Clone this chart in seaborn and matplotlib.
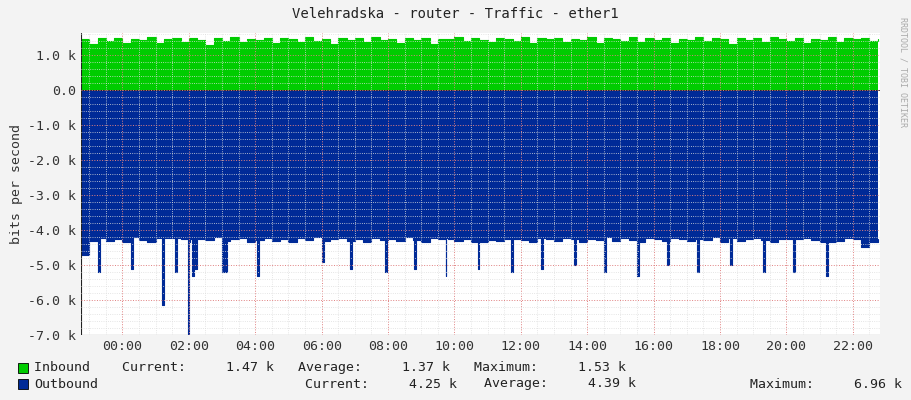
import numpy as np
import pandas as pd
import seaborn as sns
import matplotlib.pyplot as plt
from matplotlib.ticker import MultipleLocator, FuncFormatter

# hours relative to midnight, 15 minute samples
start_hour = -1.25
step_hour = 0.25

inbound_k = [
    1.45, 1.32, 1.48, 1.40, 1.50, 1.35, 1.47, 1.42, 1.51, 1.33, 1.46, 1.49, 1.38, 1.50, 1.44, 1.30,
    1.48, 1.41, 1.52, 1.36, 1.47, 1.43, 1.50, 1.34, 1.49, 1.45, 1.38, 1.51, 1.40, 1.47, 1.32, 1.50,
    1.44, 1.48, 1.37, 1.52, 1.42, 1.46, 1.35, 1.50, 1.43, 1.49, 1.31, 1.47, 1.45, 1.51, 1.39, 1.48,
    1.44, 1.36, 1.50, 1.46, 1.41, 1.52, 1.34, 1.48, 1.45, 1.50, 1.38, 1.47, 1.43, 1.51, 1.33, 1.49,
    1.46, 1.40, 1.52, 1.37, 1.48, 1.44, 1.50, 1.35, 1.47, 1.42, 1.51, 1.39, 1.49, 1.45, 1.32, 1.50,
    1.43, 1.48, 1.36, 1.52, 1.46, 1.41, 1.49, 1.34, 1.47, 1.44, 1.51, 1.38, 1.48, 1.45, 1.50, 1.40,
    1.46,
]

outbound_k = [
    -4.70, -4.32, -4.22, -4.30, -4.26, -4.35, -4.21, -4.28, -4.33, -4.24, -4.30, -4.22, -4.27, -4.34, -4.25, -4.29,
    -4.21, -4.31, -4.26, -4.23, -4.33, -4.28, -4.22, -4.30, -4.25, -4.35, -4.24, -4.29, -4.21, -4.32, -4.27, -4.23,
    -4.30, -4.26, -4.34, -4.22, -4.28, -4.25, -4.31, -4.21, -4.29, -4.33, -4.24, -4.27, -4.22, -4.30, -4.26, -4.35,
    -4.23, -4.28, -4.31, -4.25, -4.21, -4.29, -4.34, -4.24, -4.27, -4.30, -4.22, -4.26, -4.33, -4.25, -4.28, -4.21,
    -4.31, -4.24, -4.29, -4.35, -4.23, -4.27, -4.30, -4.22, -4.26, -4.32, -4.25, -4.28, -4.21, -4.34, -4.24, -4.30,
    -4.27, -4.22, -4.29, -4.33, -4.25, -4.26, -4.31, -4.23, -4.28, -4.35, -4.24, -4.30, -4.22, -4.27, -4.48, -4.33,
    -4.25,
]

spike_hours = [-0.74, 0.26, 1.20, 1.57, 1.97, 2.10, 2.17, 3.00, 3.10, 4.06, 6.00, 6.86, 7.90, 8.77, 9.74,
               10.70, 11.70, 12.60, 13.60, 14.50, 15.50, 16.40, 17.30, 18.30, 19.30, 20.20, 21.20]
spike_k = [-5.2, -5.1, -6.15, -5.2, -6.96, -5.3, -5.1, -5.2, -5.2, -5.3, -4.9, -5.1, -5.2, -5.1, -5.3,
           -5.1, -5.2, -5.1, -5.0, -5.2, -5.3, -5.0, -5.2, -5.0, -5.2, -5.2, -5.3]

green = "#00CC00"
blue = "#002A97"

hours = start_hour + step_hour * np.arange(len(inbound_k))
df_in = pd.DataFrame({"hour": hours, "value": inbound_k})

# merge narrow spikes into the outbound step series
base = pd.Series(outbound_k, index=hours)
pts = {h: v for h, v in base.items()}
for h, v in zip(spike_hours, spike_k):
    back = base[base.index <= h].iloc[-1]
    pts[h] = v
    pts[h + 0.06] = back
df_out = pd.DataFrame(sorted(pts.items()), columns=["hour", "value"])

sns.set_style("white")
plt.rcParams["font.family"] = ["DejaVu Sans Mono"]

fig = plt.figure(figsize=(9.11, 4.0), dpi=100, facecolor="#F3F3F3")
ax = fig.add_axes([81 / 911, 65 / 400, 799 / 911, 302 / 400])
ax.set_facecolor("white")

ax.fill_between(df_in["hour"], 0, df_in["value"], step="post", color=green, lw=0)
ax.fill_between(df_out["hour"], 0, df_out["value"], step="post", color=blue, lw=0)
sns.lineplot(data=df_in, x="hour", y="value", ax=ax, color=green, lw=0.8, drawstyle="steps-post")
sns.lineplot(data=df_out, x="hour", y="value", ax=ax, color=blue, lw=0.8, drawstyle="steps-post")

ax.set_xlim(-1.25, 21.57 + 1.25 - 0.0)
ax.set_ylim(-7.0, 1.63)
ax.xaxis.set_major_locator(MultipleLocator(2))
ax.xaxis.set_minor_locator(MultipleLocator(0.5))
ax.yaxis.set_major_locator(MultipleLocator(1))
ax.yaxis.set_minor_locator(MultipleLocator(0.2))
ax.xaxis.set_major_formatter(FuncFormatter(lambda v, p: f"{int(round(v)) % 24:02d}:00"))
ax.yaxis.set_major_formatter(FuncFormatter(lambda v, p: "0.0" if abs(v) < 1e-9 else f"{v:.1f} k"))
ax.grid(which="minor", color="#DDDDDD", ls=":", lw=0.6)
ax.grid(which="major", color="#E08080", ls=":", lw=0.7)
ax.set_axisbelow(False)
ax.tick_params(labelsize=9.5, colors="#333333", length=0)
ax.set_xlabel("")
ax.set_ylabel("bits per second", fontsize=9.5, color="#333333")
for s in ax.spines.values():
    s.set_visible(False)
ax.axhline(0, color="#222222", lw=0.6)
ax.axvline(ax.get_xlim()[0], color="#222222", lw=0.8)
ax.axhline(-7.0, color="#222222", lw=0.8)

fig.text(0.5, 1 - 14 / 400, "Velehradska - router - Traffic - ether1", ha="center", va="center",
         fontsize=10, color="#222222")
fig.text(1 - 8 / 911, 0.82, "RRDTOOL / TOBI OETIKER", rotation=270, ha="center", va="center",
         fontsize=6, color="#AAAAAA")

fig.patches.append(plt.Rectangle((18 / 911, 1 - 373 / 400), 10 / 911, 10 / 400, transform=fig.transFigure,
                                 facecolor=green, edgecolor="black", lw=0.6))
fig.patches.append(plt.Rectangle((18 / 911, 1 - 389 / 400), 10 / 911, 10 / 400, transform=fig.transFigure,
                                 facecolor=blue, edgecolor="black", lw=0.6))
fig.text(34 / 911, 1 - 368 / 400, "Inbound    Current:     1.47 k   Average:     1.37 k   Maximum:     1.53 k",
         va="center", fontsize=9.5, color="#222222")
fig.text(34 / 911, 1 - 384 / 400, "Outbound", va="center", fontsize=9.5, color="#222222")
fig.text(305 / 911, 1 - 384 / 400, "Current:     4.25 k", va="center", fontsize=9.5, color="#222222")
fig.text(484 / 911, 1 - 384 / 400, "Average:     4.39 k", va="center", fontsize=9.5, color="#222222")
fig.text(750 / 911, 1 - 384 / 400, "Maximum:     6.96 k", va="center", fontsize=9.5, color="#222222")

fig.savefig("out.png", dpi=100, facecolor=fig.get_facecolor())
